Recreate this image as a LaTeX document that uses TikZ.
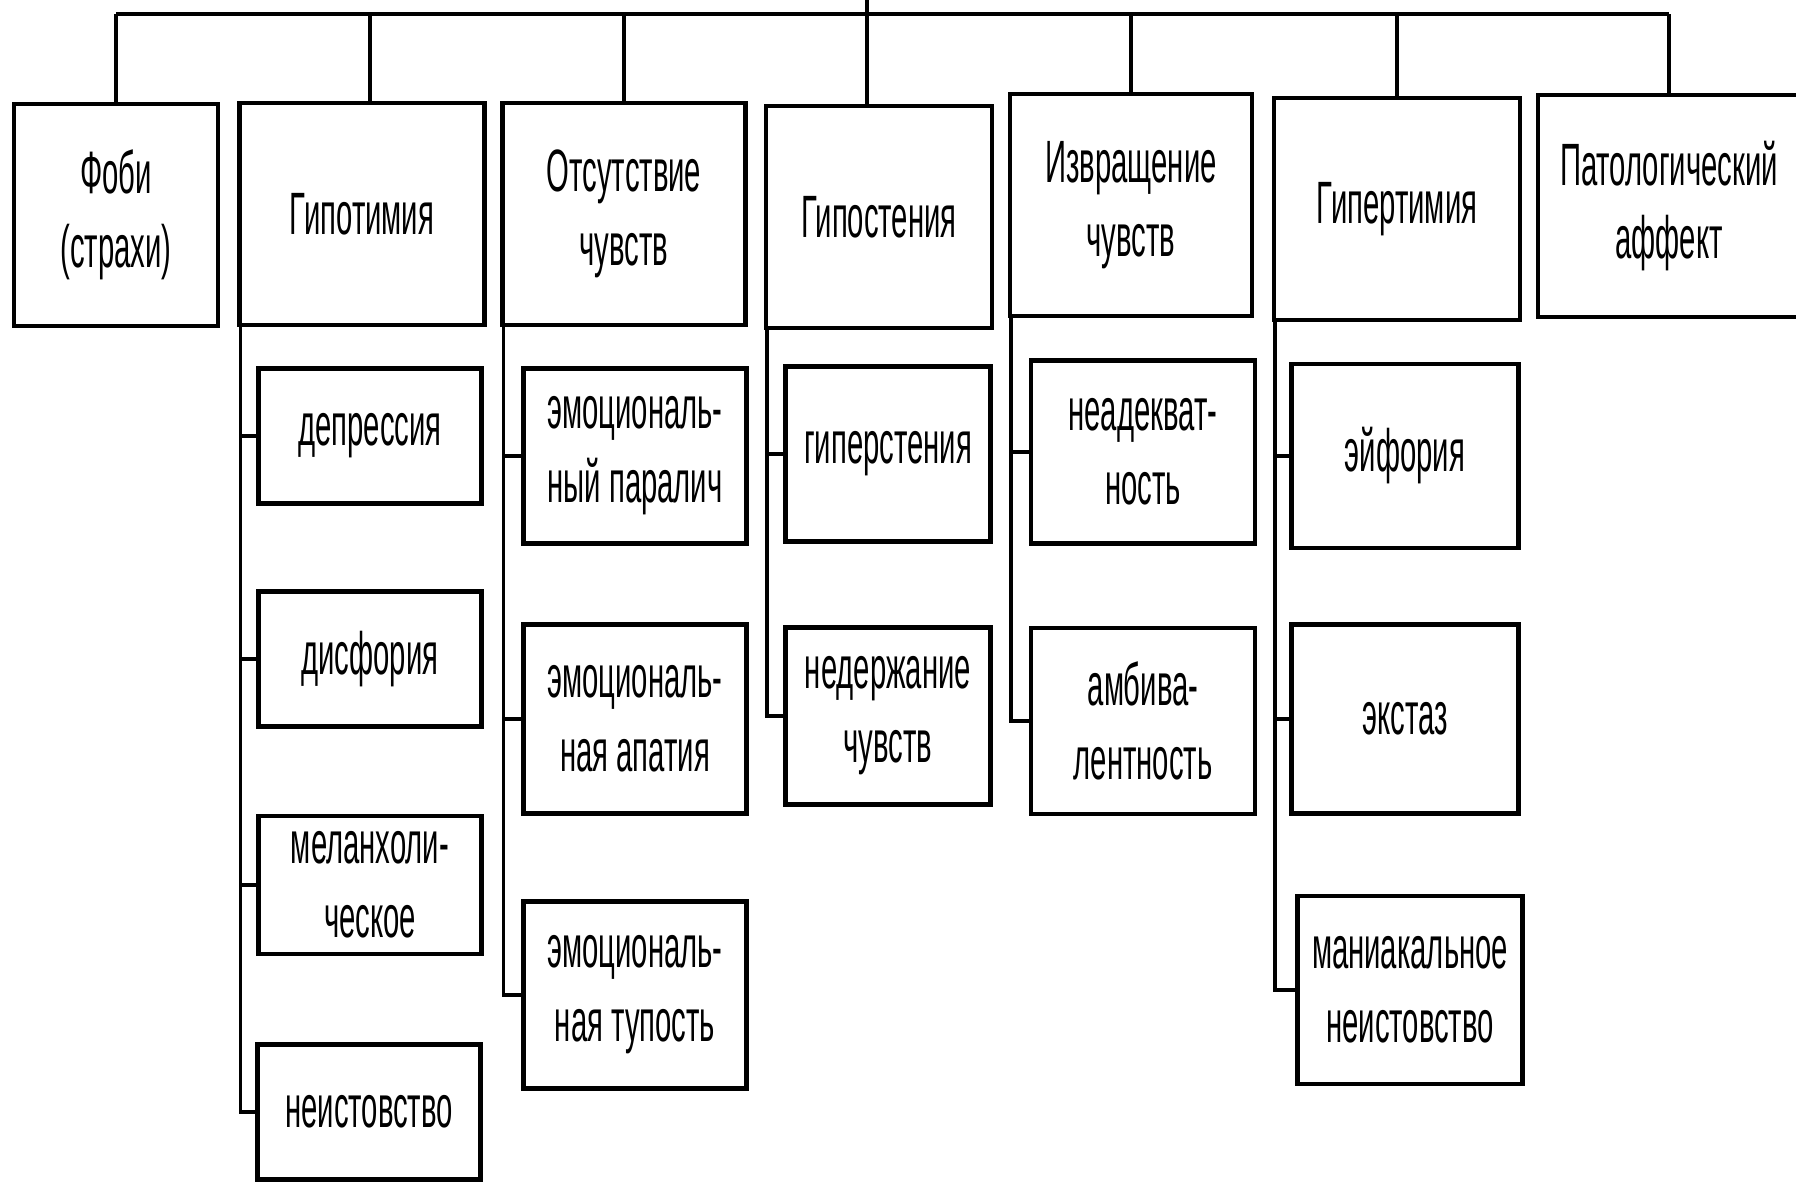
\documentclass[tikz,border=0pt]{standalone}
\usepackage{fontspec}
\setmainfont{Liberation Sans}[FakeStretch=0.49]
\usepackage{tikz}
\usetikzlibrary{positioning}
\tikzset{
  moodpicture/.style={x=0.1mm, y=-0.1mm},
  moodbox/.style={draw, line width=1.2pt, align=center, inner sep=0pt, font=\fontsize{17}{21}\selectfont},
  moodhead/.style={moodbox, minimum height=22.2mm},
  moodleaf/.style={moodbox, minimum width=22.3mm},
  moodtrunk/.style={line width=1.4pt},
  moodtwig/.style={line width=1pt}
}

\begin{document}
\begin{tikzpicture}[moodpicture]
\clip (0,0) rectangle (1796,1182);
% top row
\node[moodhead, minimum width=20.4mm] (fobi) at (116,215) {Фоби\\(страхи)};
\node[moodhead, minimum width=24.5mm] (hypo) at (362,214) {Гипотимия};
\node[moodhead, minimum width=24.3mm] (absent) at (624,214) {Отсутствие\\чувств};
\node[moodhead, minimum width=22.6mm] (hyposth) at (879,217) {Гипостения};
\node[moodhead, minimum width=24.2mm] (perv) at (1131,205) {Извращение\\чувств};
\node[moodhead, minimum width=24.6mm] (hyper) at (1397,209) {Гипертимия};
\node[moodhead, minimum width=26.2mm] (patho) at (1669,206) {Патологический\\аффект};
% Гипотимия
\node[moodleaf, minimum height=13.5mm] (depr) at (370,436) {депрессия};
\node[moodleaf, minimum height=13.5mm] (dysph) at (370,659) {дисфория};
\node[moodleaf, minimum height=13.8mm] (melan) at (370,885) {меланхоли-\\ческое};
\node[moodleaf, minimum height=13.5mm] (neist) at (369,1112) {неистовство};
% Отсутствие чувств
\node[moodleaf, minimum height=17.5mm] (paral) at (635,456) {эмоциональ-\\ный паралич};
\node[moodleaf, minimum height=18.9mm] (apath) at (635,719) {эмоциональ-\\ная апатия};
\node[moodleaf, minimum height=18.7mm] (dull) at (635,995) {эмоциональ-\\ная тупость};
% Гипостения
\node[moodleaf, minimum width=20.5mm, minimum height=17.5mm] (hypersth) at (888,454) {гиперстения};
\node[moodleaf, minimum width=20.5mm, minimum height=17.7mm] (incont) at (888,716) {недержание\\чувств};
% Извращение чувств
\node[moodleaf, minimum width=22.4mm, minimum height=18.3mm] (inadeq) at (1143,452) {неадекват-\\ность};
\node[moodleaf, minimum width=22.4mm, minimum height=18.6mm] (ambiv) at (1143,721) {амбива-\\лентность};
% Гипертимия
\node[moodleaf, minimum width=22.7mm, minimum height=18.4mm] (euph) at (1405,456) {эйфория};
\node[moodleaf, minimum width=22.7mm, minimum height=18.9mm] (ecst) at (1405,719) {экстаз};
\node[moodleaf, minimum width=22.5mm, minimum height=18.8mm] (manic) at (1410,990) {маниакальное\\неистовство};

% bus
\coordinate (root) at (867,0);
\coordinate (bus) at (867,14);
\draw[moodtrunk] (fobi.north |- bus) -- (patho.north |- bus);
\draw[moodtwig] (root) -- (bus) -- (bus |- hyposth.north);
\foreach \head in {fobi,absent,perv,hyper,patho}
  \draw[moodtwig] (\head.north |- bus) -- (\head.north);
\draw[moodtwig] ([xshift=0.8mm]hypo.north |- bus) -- ([xshift=0.8mm]hypo.north);

% branches
\foreach \leaf in {depr,dysph,melan,neist}
  \draw[moodtwig] ([xshift=0.3mm]hypo.south west) |- (\leaf.west);
\foreach \leaf in {paral,apath,dull}
  \draw[moodtwig] ([xshift=0.3mm]absent.south west) |- (\leaf.west);
\foreach \leaf in {hypersth,incont}
  \draw[moodtwig] ([xshift=0.3mm]hyposth.south west) |- (\leaf.west);
\foreach \leaf in {inadeq,ambiv}
  \draw[moodtwig] ([xshift=0.3mm]perv.south west) |- (\leaf.west);
\foreach \leaf in {euph,ecst,manic}
  \draw[moodtwig] ([xshift=0.3mm]hyper.south west) |- (\leaf.west);
\end{tikzpicture}
\end{document}
